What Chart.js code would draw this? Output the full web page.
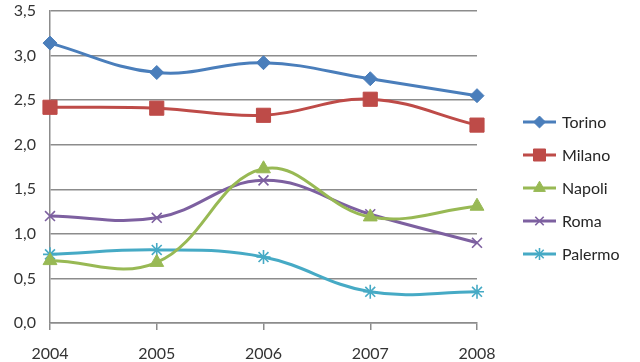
<!DOCTYPE html>
<html><head><meta charset="utf-8">
<script src="https://cdn.jsdelivr.net/npm/chart.js@4/dist/chart.umd.min.js"></script>
<style>html,body{margin:0;padding:0;background:#fff}#wrap{width:640px;height:362px}</style>
</head><body><div id="wrap"><canvas id="c"></canvas></div>
<script>
const years = ['2004','2005','2006','2007','2008'];
const torino = [3.14, 2.81, 2.92, 2.74, 2.55];
const milano = [2.42, 2.41, 2.33, 2.51, 2.22];
const napoli = [0.70, 0.68, 1.73, 1.19, 1.31];
const roma = [1.20, 1.18, 1.60, 1.22, 0.90];
const palermo = [0.77, 0.82, 0.74, 0.35, 0.35];
const seriesNames = ['Torino','Milano','Napoli','Roma','Palermo'];

const colors = ['#4A7EBB','#BE4B48','#98B954','#7D60A0','#46AAC5'];
const styles = ['rectRot','rect','triangle','crossRot','star'];
const radii = [7, 10, 8, 7, 7];
const values = [torino, milano, napoli, roma, palermo];
const FONT = 'Lato, "Open Sans", "Liberation Sans", sans-serif';

const datasets = seriesNames.map((n,i)=>({
  label:n, data:values[i], borderColor:colors[i], backgroundColor:colors[i],
  borderWidth:3, tension:0.4, cubicInterpolationMode:'default',
  pointStyle:styles[i], pointRadius:radii[i], pointBorderWidth:(i>=3?1.6:1),
  pointBorderColor:colors[i], pointBackgroundColor:colors[i], clip:false
}));

const legendPlugin = {
  id:'customLegend',
  afterDraw(chart){
    const ctx = chart.ctx;
    ctx.save();
    chart.data.datasets.forEach((ds,i)=>{
      const y = 122 + 33*i;
      ctx.strokeStyle = ds.borderColor; ctx.lineWidth = 3;
      ctx.beginPath(); ctx.moveTo(523,y); ctx.lineTo(556,y); ctx.stroke();
      ctx.fillStyle = ds.borderColor; ctx.strokeStyle = ds.borderColor;
      ctx.lineWidth = ds.pointBorderWidth;
      Chart.helpers.drawPoint(ctx,{pointStyle:ds.pointStyle, radius:ds.pointRadius*0.85, borderWidth:ds.pointBorderWidth}, 539.5, y);
      ctx.fillStyle = '#262626';
      ctx.font = '16px ' + FONT;
      ctx.textBaseline = 'middle'; ctx.textAlign = 'left';
      ctx.fillText(ds.label, 562, y+1);
    });
    ctx.restore();
  }
};

new Chart(document.getElementById('c'), {
  type:'line',
  data:{labels:years, datasets},
  options:{
    responsive:true, maintainAspectRatio:false, animation:false,
    layout:{padding:{top:11,right:163,bottom:0,left:0}},
    plugins:{legend:{display:false}, tooltip:{enabled:false}},
    scales:{
      x:{
        offset:false,
        grid:{drawOnChartArea:false, drawTicks:true, tickLength:7, color:'#8c8c8c', lineWidth:1.5},
        border:{color:'#8c8c8c', width:1.5},
        ticks:{color:'#333', font:{size:16, family:FONT}, padding:14, maxRotation:0},
        afterFit(s){ s.height = 39; s.paddingLeft = 0; s.paddingRight = 0; }
      },
      y:{
        min:0, max:3.5,
        grid:{color:'#8c8c8c', lineWidth:1.5, drawTicks:false},
        border:{color:'#8c8c8c', width:1.5},
        ticks:{stepSize:0.5, color:'#333', padding:14,
          font:{size:16, family:FONT},
          callback:(v)=>Number(v).toFixed(1).replace('.',',')},
        afterFit(s){ s.width = 50; s.paddingTop = 0; s.paddingBottom = 0; }
      }
    }
  },
  plugins:[legendPlugin]
});
</script>
</body></html>
